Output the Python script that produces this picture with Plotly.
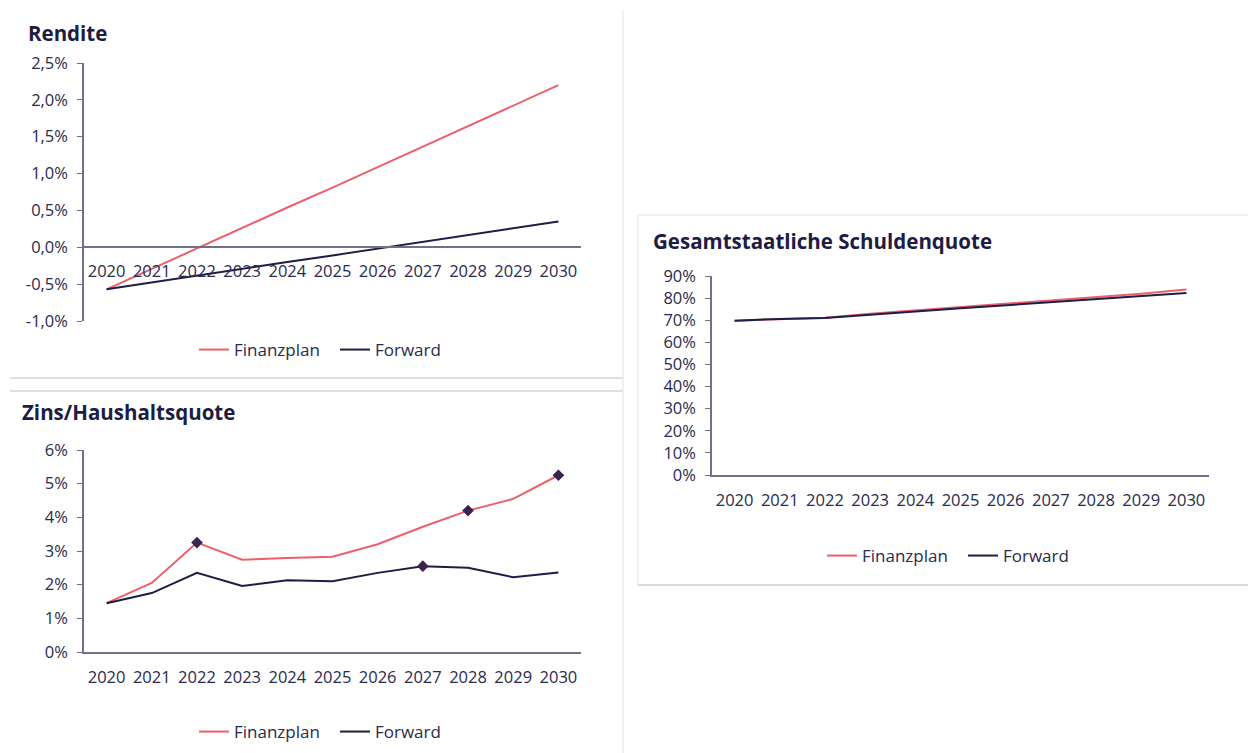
import plotly.graph_objects as go

W, H = 1248, 753

years = [str(y) for y in range(2020, 2031)]

# Rendite (%)
rendite_finanzplan = [-0.57, -0.29, -0.01, 0.26, 0.54, 0.81, 1.09, 1.36, 1.64, 1.92, 2.20]
rendite_forward = [-0.57, -0.48, -0.39, -0.30, -0.20, -0.11, -0.02, 0.07, 0.16, 0.26, 0.35]
rendite_tickvals = [-1.0, -0.5, 0.0, 0.5, 1.0, 1.5, 2.0, 2.5]
rendite_ticktext = ["-1,0%", "-0,5%", "0,0%", "0,5%", "1,0%", "1,5%", "2,0%", "2,5%"]

# Zins/Haushaltsquote (%)
zins_finanzplan = [1.45, 2.05, 3.25, 2.74, 2.79, 2.83, 3.20, 3.72, 4.20, 4.55, 5.25]
zins_forward = [1.45, 1.75, 2.35, 1.96, 2.13, 2.10, 2.35, 2.55, 2.50, 2.22, 2.36]
zins_marked_finanzplan = [2, 8, 10]
zins_marked_forward = [7]
zins_tickvals = [0, 1, 2, 3, 4, 5, 6]
zins_ticktext = ["0%", "1%", "2%", "3%", "4%", "5%", "6%"]

# Gesamtstaatliche Schuldenquote (%)
schulden_finanzplan = [69.8, 70.6, 71.1, 72.9, 74.4, 75.9, 77.3, 78.8, 80.3, 82.0, 83.9]
schulden_forward = [69.8, 70.6, 71.0, 72.6, 74.0, 75.4, 76.8, 78.1, 79.5, 80.9, 82.3]
schulden_tickvals = [0, 10, 20, 30, 40, 50, 60, 70, 80, 90]
schulden_ticktext = [f"{v}%" for v in schulden_tickvals]

RED = "#EE5E6B"
NAVY = "#1d1d45"
MARK = "#3b2351"
AXIS = "#70708c"
TXT = "#2a2a4c"
FONT = "Open Sans"


def px_x(p):
    return p / W


def px_y(p):
    return 1 - p / H


fig = go.Figure()

# --- Rendite ---
fig.add_trace(go.Scatter(x=years, y=rendite_finanzplan, mode="lines", name="Finanzplan",
                         line=dict(color=RED, width=2), xaxis="x", yaxis="y", legend="legend"))
fig.add_trace(go.Scatter(x=years, y=rendite_forward, mode="lines", name="Forward",
                         line=dict(color=NAVY, width=2), xaxis="x", yaxis="y", legend="legend"))

# --- Zins/Haushaltsquote ---
fig.add_trace(go.Scatter(x=years, y=zins_finanzplan, mode="lines", name="Finanzplan",
                         line=dict(color=RED, width=2), xaxis="x2", yaxis="y2", legend="legend2"))
fig.add_trace(go.Scatter(x=years, y=zins_forward, mode="lines", name="Forward",
                         line=dict(color=NAVY, width=2), xaxis="x2", yaxis="y2", legend="legend2"))
fig.add_trace(go.Scatter(x=[years[i] for i in zins_marked_finanzplan],
                         y=[zins_finanzplan[i] for i in zins_marked_finanzplan],
                         mode="markers", marker=dict(symbol="diamond", size=9, color=MARK),
                         showlegend=False, xaxis="x2", yaxis="y2"))
fig.add_trace(go.Scatter(x=[years[i] for i in zins_marked_forward],
                         y=[zins_forward[i] for i in zins_marked_forward],
                         mode="markers", marker=dict(symbol="diamond", size=9, color=MARK),
                         showlegend=False, xaxis="x2", yaxis="y2"))

# --- Schuldenquote ---
fig.add_trace(go.Scatter(x=years, y=schulden_finanzplan, mode="lines", name="Finanzplan",
                         line=dict(color=RED, width=2), xaxis="x3", yaxis="y3", legend="legend3"))
fig.add_trace(go.Scatter(x=years, y=schulden_forward, mode="lines", name="Forward",
                         line=dict(color=NAVY, width=2), xaxis="x3", yaxis="y3", legend="legend3"))

tickfont = dict(family=FONT, size=16.5, color=TXT)

xcommon = dict(type="category", range=[-0.5, 10.5], showline=True, linecolor=AXIS, linewidth=1.5,
               ticks="outside", ticklen=9, tickcolor="rgba(0,0,0,0)", showgrid=False,
               zeroline=False, tickfont=tickfont, fixedrange=True)
ycommon = dict(showline=True, linecolor=AXIS, linewidth=1.5, ticks="outside", ticklen=5,
               tickcolor=AXIS, showgrid=False, zeroline=False, tickfont=tickfont, fixedrange=True,
               ticklabelstandoff=6)

legfont = dict(family=FONT, size=17, color=TXT)
legcommon = dict(orientation="h", xanchor="left", yanchor="middle", font=legfont,
                 bgcolor="rgba(0,0,0,0)", itemwidth=30, entrywidth=96, entrywidthmode="pixels")

fig.update_layout(
    width=W, height=H,
    margin=dict(l=0, r=0, t=0, b=0, autoexpand=False),
    paper_bgcolor="white", plot_bgcolor="white",
    font=dict(family=FONT, color=TXT),
    xaxis=dict(xcommon, domain=[px_x(84), px_x(581)], anchor="free", position=px_y(247)),
    yaxis=dict(ycommon, domain=[px_y(321), px_y(63)], range=[-1.0, 2.5], anchor="x",
               tickvals=rendite_tickvals, ticktext=rendite_ticktext),
    xaxis2=dict(xcommon, domain=[px_x(84), px_x(581)], anchor="y2"),
    yaxis2=dict(ycommon, domain=[px_y(652), px_y(450)], range=[0, 6], anchor="x2",
                tickvals=zins_tickvals, ticktext=zins_ticktext),
    xaxis3=dict(xcommon, domain=[px_x(712), px_x(1209)], anchor="y3"),
    yaxis3=dict(ycommon, domain=[px_y(475), px_y(276)], range=[0, 90], anchor="x3",
                tickvals=schulden_tickvals, ticktext=schulden_ticktext),
    legend=dict(legcommon, x=px_x(194), y=px_y(350)),
    legend2=dict(legcommon, x=px_x(194), y=px_y(732)),
    legend3=dict(legcommon, x=px_x(822), y=px_y(556)),
    showlegend=True,
)

titlefont = dict(family=FONT, size=20.5, color="#1c1c44")
for text, x, y in [("Rendite", 26, 33), ("Zins/Haushaltsquote", 20, 412),
                   ("Gesamtstaatliche Schuldenquote", 651, 241)]:
    fig.add_annotation(text=f"<b>{text}</b>", xref="paper", yref="paper", x=px_x(x), y=px_y(y),
                       xanchor="left", yanchor="middle", showarrow=False, font=titlefont)

# panel borders
LIGHT = "#d6d6d6"
VLIGHT = "#ececec"
shapes = [
    dict(x0=10, x1=623, y0=378, y1=378, color=LIGHT),
    dict(x0=10, x1=623, y0=391, y1=391, color=LIGHT),
    dict(x0=623, x1=623, y0=10, y1=753, color=VLIGHT),
    dict(x0=638, x1=1248, y0=215, y1=215, color=VLIGHT),
    dict(x0=638, x1=638, y0=215, y1=585, color=VLIGHT),
    dict(x0=638, x1=1248, y0=585, y1=585, color="#cccccc"),
]
for s in shapes:
    fig.add_shape(type="line", xref="paper", yref="paper",
                  x0=px_x(s["x0"]), x1=px_x(s["x1"]), y0=px_y(s["y0"]), y1=px_y(s["y1"]),
                  line=dict(color=s["color"], width=1.5), layer="below")

fig.write_html("out.html", config={"displayModeBar": False},
               post_script="document.body.style.margin='0';document.body.style.overflow='hidden';")
